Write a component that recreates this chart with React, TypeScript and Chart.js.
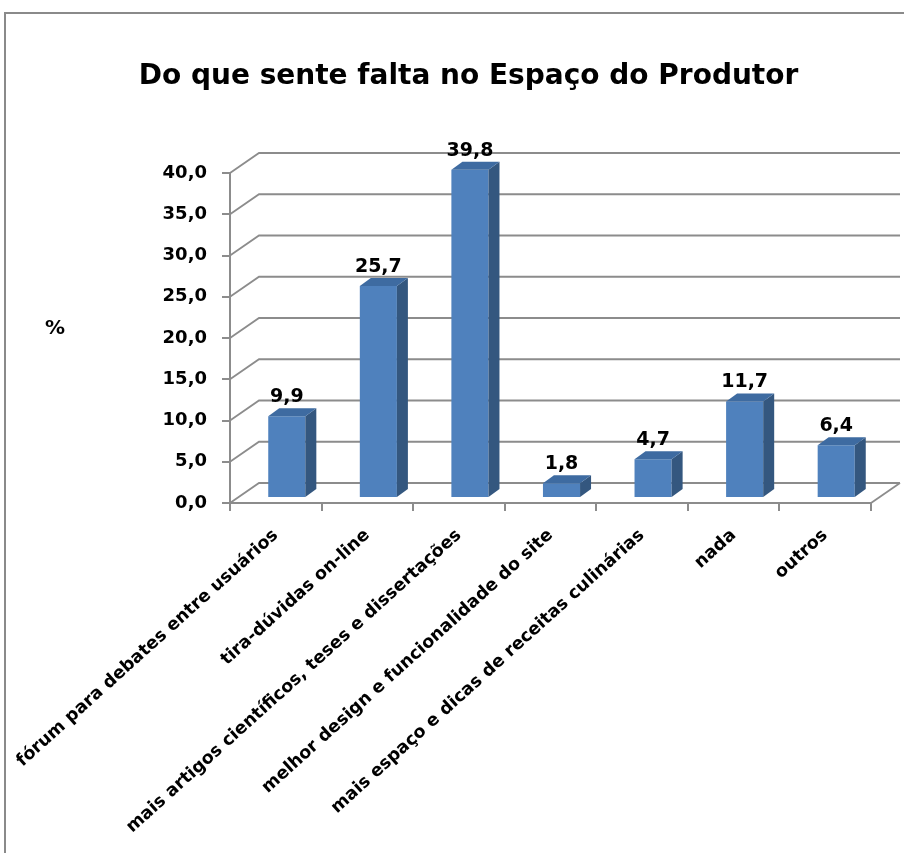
import React, { useEffect, useRef } from "react";
import { Chart, registerables } from "chart.js";

Chart.register(...registerables);

const TITLE = "Do que sente falta no Espaço do Produtor";
const AXIS_LABEL = "%";
const categories = [
  "fórum para debates entre usuários",
  "tira-dúvidas on-line",
  "mais artigos científicos, teses e dissertações",
  "melhor design e funcionalidade do site",
  "mais espaço e dicas de receitas culinárias",
  "nada",
  "outros",
];
const values = [9.9, 25.7, 39.8, 1.8, 4.7, 11.7, 6.4];
const yMin = 0;
const yMax = 40;
const yStep = 5;

const FONT = "'DejaVu Sans', sans-serif";
const GRID = "#8c8c8c";
const FRONT = "#4F81BD";
const SIDE = "#34577F";
const TOP = "#3E6BA1";
const WALL = { dx: 29, dy: -20 };
const SHIFT = { dx: 11, dy: -5 };
const BDEPTH = { dx: 11, dy: -8 };

const fmt = (v: number) => v.toFixed(1).replace(".", ",");

const threeD = {
  id: "threeD",
  beforeDatasetsDraw(chart: any) {
    const { ctx, chartArea } = chart;
    const y = chart.scales.y;
    ctx.save();
    ctx.strokeStyle = GRID;
    ctx.lineWidth = 1.8;
    const L = chartArea.left;
    const R = chartArea.right;
    y.ticks.forEach((t: any) => {
      const py = y.getPixelForValue(t.value);
      ctx.beginPath();
      ctx.moveTo(L, py);
      ctx.lineTo(L + WALL.dx, py + WALL.dy);
      ctx.lineTo(R + WALL.dx, py + WALL.dy);
      ctx.stroke();
    });
    const p0 = y.getPixelForValue(0);
    ctx.beginPath();
    ctx.moveTo(R, p0);
    ctx.lineTo(R + WALL.dx, p0 + WALL.dy);
    ctx.stroke();
    ctx.restore();
    ctx.save();
    ctx.translate(SHIFT.dx, SHIFT.dy);
  },
  afterDatasetsDraw(chart: any) {
    const { ctx } = chart;
    ctx.restore();
    const meta = chart.getDatasetMeta(0);
    ctx.save();
    meta.data.forEach((bar: any, i: number) => {
      const p = bar.getProps(["x", "y", "base", "width"], true);
      const l = p.x - p.width / 2 + SHIFT.dx;
      const r = p.x + p.width / 2 + SHIFT.dx;
      const t = p.y + SHIFT.dy;
      const b = p.base + SHIFT.dy;
      ctx.fillStyle = SIDE;
      ctx.beginPath();
      ctx.moveTo(r, t);
      ctx.lineTo(r + BDEPTH.dx, t + BDEPTH.dy);
      ctx.lineTo(r + BDEPTH.dx, b + BDEPTH.dy);
      ctx.lineTo(r, b);
      ctx.closePath();
      ctx.fill();
      ctx.fillStyle = TOP;
      ctx.beginPath();
      ctx.moveTo(l, t);
      ctx.lineTo(r, t);
      ctx.lineTo(r + BDEPTH.dx, t + BDEPTH.dy);
      ctx.lineTo(l + BDEPTH.dx, t + BDEPTH.dy);
      ctx.closePath();
      ctx.fill();
      ctx.fillStyle = "#000";
      ctx.font = `bold 19px ${FONT}`;
      ctx.textAlign = "center";
      ctx.textBaseline = "alphabetic";
      ctx.fillText(fmt(values[i]), (l + r) / 2, t - 14);
    });
    ctx.font = `bold 20px ${FONT}`;
    ctx.textAlign = "center";
    ctx.textBaseline = "middle";
    ctx.fillText(AXIS_LABEL, 55, 329);
    ctx.restore();
  },
  afterDraw(chart: any) {
    const { ctx } = chart;
    ctx.save();
    ctx.strokeStyle = "#8a8a8a";
    ctx.lineWidth = 2;
    ctx.beginPath();
    ctx.moveTo(5, 853);
    ctx.lineTo(5, 13);
    ctx.lineTo(904, 13);
    ctx.stroke();
    ctx.restore();
  },
};

const noPad = (s: any) => {
  s.paddingLeft = 0;
  s.paddingRight = 0;
  s.paddingTop = 0;
  s.paddingBottom = 0;
};

export default function App() {
  const ref = useRef<HTMLCanvasElement>(null);
  useEffect(() => {
    const chart = new Chart(ref.current as HTMLCanvasElement, {
      type: "bar",
      data: {
        labels: categories,
        datasets: [
          {
            data: values,
            backgroundColor: FRONT,
            borderWidth: 0,
            categoryPercentage: 1,
            barPercentage: 0.405,
          } as any,
        ],
      },
      options: {
        responsive: false,
        animation: false,
        devicePixelRatio: 1,
        layout: { autoPadding: false, padding: { left: 33, right: 0, top: 0, bottom: 0 } } as any,
        plugins: {
          legend: { display: false },
          tooltip: { enabled: false },
          title: {
            display: true,
            text: TITLE,
            color: "#000",
            font: { family: FONT, size: 28, weight: "bold", lineHeight: 1.2 },
            padding: { top: 60, bottom: 173 - 60 - 33.6 },
          },
        },
        scales: {
          x: {
            type: "category",
            offset: true,
            grid: {
              offset: true,
              drawOnChartArea: false,
              drawTicks: true,
              tickLength: 8,
              color: GRID,
              lineWidth: 2,
            },
            border: { display: true, color: GRID, width: 2 },
            ticks: {
              autoSkip: false,
              minRotation: 42,
              maxRotation: 42,
              padding: 14,
              color: "#000",
              font: { family: FONT, size: 17.5, weight: "bold" },
            },
            afterFit(s: any) {
              s.height = 350;
              noPad(s);
            },
          },
          y: {
            type: "linear",
            position: "left",
            min: yMin,
            max: yMax,
            grid: {
              drawOnChartArea: false,
              drawTicks: true,
              tickLength: 8,
              color: GRID,
              lineWidth: 2,
            },
            border: { display: true, color: GRID, width: 2 },
            ticks: {
              stepSize: yStep,
              padding: 15,
              color: "#000",
              font: { family: FONT, size: 18, weight: "bold" },
              callback: (v: any) => fmt(Number(v)),
            },
            afterFit(s: any) {
              s.width = 197;
              noPad(s);
            },
          },
          y2: {
            type: "linear",
            position: "right",
            display: true,
            grid: { display: false },
            border: { display: false },
            ticks: { display: false },
            afterFit(s: any) {
              s.width = 33;
              noPad(s);
            },
          },
        },
      } as any,
      plugins: [threeD],
    });
    return () => chart.destroy();
  }, []);
  return (
    <div style={{ position: "absolute", left: 0, top: 0, width: 904, height: 853 }}>
      <canvas ref={ref} width={904} height={853} />
    </div>
  );
}
